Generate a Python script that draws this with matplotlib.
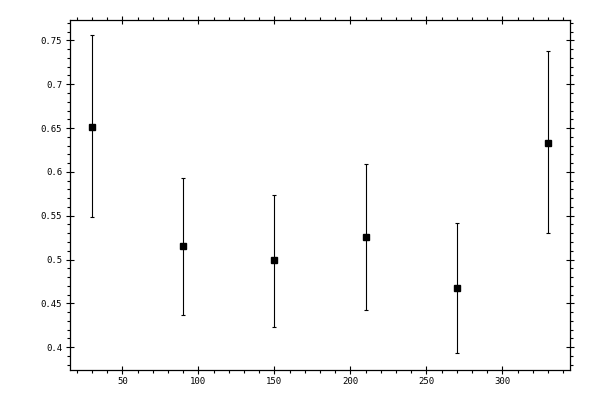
import numpy as np
import matplotlib
matplotlib.use('Agg')
import matplotlib.pyplot as plt
from matplotlib.ticker import MultipleLocator, FuncFormatter

# angle vs. measured value, with asymmetric error bars
angles = [30, 90, 150, 210, 270, 330]
values = [0.651, 0.515, 0.499, 0.526, 0.468, 0.633]
err_low = [0.102, 0.078, 0.076, 0.083, 0.0745, 0.103]
err_high = [0.105, 0.078, 0.075, 0.083, 0.074, 0.105]

fig = plt.figure(figsize=(6, 4), dpi=100)
ax = fig.add_axes([0.116, 0.075, 0.834, 0.876])

ax.errorbar(angles, values, yerr=[err_low, err_high], fmt='s', color='black',
            ms=5, elinewidth=0.8, capsize=1.6, capthick=0.8)

ax.set_xlim(15.3, 344.5)
ax.set_ylim(0.374, 0.7737)

ax.xaxis.set_major_locator(MultipleLocator(50))
ax.xaxis.set_minor_locator(MultipleLocator(10))
ax.yaxis.set_major_locator(MultipleLocator(0.05))
ax.yaxis.set_minor_locator(MultipleLocator(0.01))
ax.yaxis.set_major_formatter(FuncFormatter(lambda v, p: '%g' % round(v, 3)))
ax.xaxis.set_major_formatter(FuncFormatter(lambda v, p: '%g' % v))

ax.tick_params(which='major', direction='inout', length=5.6, width=0.8,
               top=True, right=True, labelsize=6.5, pad=2.5)
ax.tick_params(which='minor', direction='out', length=2.0, width=0.8,
               top=True, right=True)
for lab in ax.get_xticklabels() + ax.get_yticklabels():
    lab.set_family('DejaVu Sans Mono')
for s in ax.spines.values():
    s.set_linewidth(0.9)

fig.savefig('out.png', dpi=100)
